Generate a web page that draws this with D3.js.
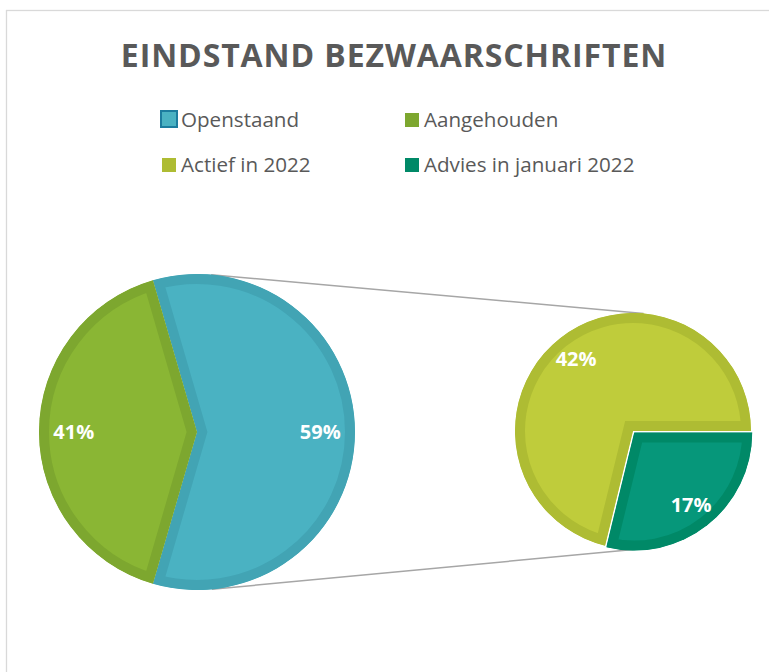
<!DOCTYPE html>
<html>
<head>
<meta charset="utf-8">
<script src="https://cdn.jsdelivr.net/npm/d3@7"></script>
<style>
  body { margin: 0; background: #fff; }
  text { font-family: "Open Sans", sans-serif; }
</style>
</head>
<body>
<div id="chart"></div>
<script>
////////////////////////////////////////////////////////////////////////
// Data

let mainLabels = ["Openstaand", "Aangehouden"];
let mainValues = [59, 41];

let subLabels = ["Actief in 2022", "Advies in januari 2022"];
let subValues = [42, 17];

let legendLabels = ["Openstaand", "Aangehouden", "Actief in 2022", "Advies in januari 2022"];

let title = "EINDSTAND BEZWAARSCHRIFTEN";

////////////////////////////////////////////////////////////////////////
// Colours (fill / inner border)

let fillColor = d3.scaleOrdinal()
  .domain(legendLabels)
  .range(["#4AB2C2", "#8AB634", "#BFCC3B", "#06977A"]);

let edgeColor = d3.scaleOrdinal()
  .domain(legendLabels)
  .range(["#42A4B4", "#7DA72F", "#AEBC33", "#008967"]);

let width = 769;
let height = 672;
let ring = 10;   // width of the darker border inside every slice

let svg = d3.select("#chart")
  .append("svg")
  .attr("width", width).attr("height", height);

// chart area border
svg.append("rect")
  .attr("x", 6.5).attr("y", 10.5)
  .attr("width", width + 20).attr("height", height + 20)
  .attr("fill", "none")
  .attr("stroke", "#D9D9D9")
  .attr("stroke-width", 1.3);

// title
svg.append("text")
  .attr("x", 394).attr("y", 67)
  .attr("text-anchor", "middle")
  .attr("font-size", 32)
  .attr("font-weight", 700)
  .attr("letter-spacing", 0.9)
  .attr("fill", "#595959")
  .text(title);

////////////////////////////////////////////////////////////////////////
// Legend

let legendX = d3.scaleOrdinal().domain([0, 1]).range([161, 404]);
let legendY = d3.scaleOrdinal().domain([0, 1]).range([127, 172]);

let legend = svg.append("g")
  .selectAll("g")
  .data(legendLabels)
  .enter()
  .append("g")
  .attr("transform", (d, i) => `translate(${legendX(i % 2)}, ${legendY(Math.floor(i / 2))})`);

legend.append("rect")
  .attr("x", (d, i) => i == 0 ? 0 : 1)
  .attr("y", (d, i) => i == 0 ? -16 : -14)
  .attr("width", (d, i) => i == 0 ? 16 : 14)
  .attr("height", (d, i) => i == 0 ? 16 : 14)
  .attr("fill", (d, i) => i == 0 ? fillColor(d) : edgeColor(d))
  .attr("stroke", (d, i) => i == 0 ? "#1C7C9E" : "none")
  .attr("stroke-width", 2);

legend.append("text")
  .attr("x", 20)
  .attr("y", 0)
  .attr("font-size", 20.6)
  .attr("fill", "#595959")
  .text(d => d);

////////////////////////////////////////////////////////////////////////
// Pies

let bigPie = { cx: 197, cy: 432, r: 158 };
let smallPie = { cx: 633, cy: 431, r: 118 };

let deg = Math.PI / 180;
let mainSpan = mainValues[0] / d3.sum(mainValues) * 2 * Math.PI;

let mainArcs = d3.pie().sort(null)
  .startAngle(Math.PI / 2 - mainSpan / 2)
  .endAngle(Math.PI / 2 - mainSpan / 2 + 2 * Math.PI)(mainValues);

let subArcs = d3.pie().sort(null)
  .startAngle(193.7 * deg)
  .endAngle(193.7 * deg + 2 * Math.PI)(subValues);

let explode = [0, 2]; // small slice of second pie sits a hair out

let total = d3.sum(mainValues);

function drawPie(pie, arcs, labels, explodes, idPrefix) {
  let arc = d3.arc().innerRadius(0).outerRadius(pie.r);
  let labelArc = d3.arc().innerRadius(pie.r * 0.78).outerRadius(pie.r * 0.78);

  let g = svg.append("g")
    .attr("transform", `translate(${pie.cx}, ${pie.cy})`);

  let slice = g.selectAll("g")
    .data(arcs)
    .enter()
    .append("g")
    .attr("transform", (d, i) => {
      let mid = (d.startAngle + d.endAngle) / 2;
      let e = explodes[i];
      return `translate(${e * Math.sin(mid)}, ${-e * Math.cos(mid)})`;
    });

  slice.append("clipPath")
    .attr("id", (d, i) => idPrefix + i)
    .append("path")
    .attr("d", arc);

  slice.append("path")
    .attr("d", arc)
    .attr("fill", (d, i) => fillColor(labels[i]))
    .attr("stroke", (d, i) => edgeColor(labels[i]))
    .attr("stroke-width", ring * 2)
    .attr("stroke-linejoin", "miter")
    .attr("clip-path", (d, i) => `url(#${idPrefix}${i})`);

  slice.append("text")
    .attr("transform", d => `translate(${labelArc.centroid(d)})`)
    .attr("text-anchor", "middle")
    .attr("dy", "0.36em")
    .attr("font-size", 20)
    .attr("font-weight", 700)
    .attr("fill", "#fff")
    .text(d => Math.round(d.value / total * 100) + "%");
}

// connector lines: outer tangents between both circles
let dx = smallPie.cx - bigPie.cx;
let dy = smallPie.cy - bigPie.cy;
let dist = Math.hypot(dx, dy);
let base = Math.atan2(dy, dx);
let tilt = Math.acos((bigPie.r - smallPie.r) / dist);

[base - tilt, base + tilt].forEach(a => {
  svg.append("line")
    .attr("x1", bigPie.cx + bigPie.r * Math.cos(a))
    .attr("y1", bigPie.cy + bigPie.r * Math.sin(a))
    .attr("x2", smallPie.cx + smallPie.r * Math.cos(a))
    .attr("y2", smallPie.cy + smallPie.r * Math.sin(a))
    .attr("stroke", "#A6A6A6")
    .attr("stroke-width", 1.5);
});

drawPie(bigPie, mainArcs, mainLabels, [0, 0], "clipMain");
drawPie(smallPie, subArcs, subLabels, explode, "clipSub");
</script>
</body>
</html>
